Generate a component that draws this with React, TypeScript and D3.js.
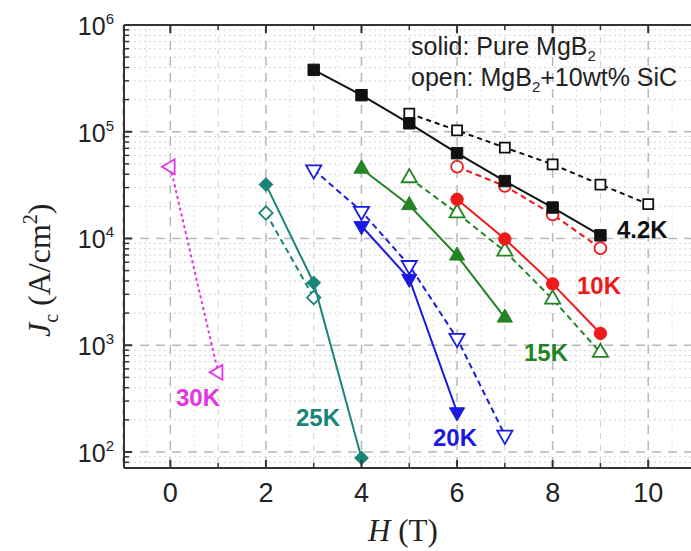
import React from "react";
import * as d3 from "d3";

// ---- data (H in tesla, Jc in A/cm^2) ----
const H42Solid = [3, 4, 5, 6, 7, 8, 9];
const Jc42Solid = [3.8e5, 2.2e5, 1.2e5, 6.3e4, 3.45e4, 1.95e4, 1.07e4];
const H42Open = [5, 6, 7, 8, 9, 10];
const Jc42Open = [1.48e5, 1.03e5, 7.1e4, 4.95e4, 3.2e4, 2.1e4];
const H10Solid = [6, 7, 8, 9];
const Jc10Solid = [2.33e4, 9.9e3, 3.76e3, 1.29e3];
const H10Open = [6, 7, 8, 9];
const Jc10Open = [4.7e4, 3.1e4, 1.68e4, 8.1e3];
const H15Solid = [4, 5, 6, 7];
const Jc15Solid = [4.5e4, 2.05e4, 6.9e3, 1.81e3];
const H15Open = [5, 6, 7, 8, 9];
const Jc15Open = [3.7e4, 1.73e4, 7.6e3, 2.7e3, 855];
const H20Solid = [4, 5, 6];
const Jc20Solid = [1.31e4, 4.2e3, 236];
const H20Open = [3, 4, 5, 6, 7];
const Jc20Open = [4.4e4, 1.8e4, 5.6e3, 1.16e3, 144];
const H25Solid = [2, 3, 4];
const Jc25Solid = [3.2e4, 3.84e3, 88];
const H25Open = [2, 3];
const Jc25Open = [1.73e4, 2.8e3];
const H30Open = [0, 1];
const Jc30Open = [4.7e4, 557];

const xTicks = [0, 2, 4, 6, 8, 10];
const xMinorTicks = [-1, 1, 3, 5, 7, 9, 11];
const yDecades = [2, 3, 4, 5, 6];

const W = 691;
const H = 551;
const left = 124;
const right = 696;
const top = 25;
const bottom = 468;

const x = d3.scaleLinear().domain([-0.97, 11]).range([left, right]);
const y = d3.scaleLog().domain([Math.pow(10, 1.85), 1e6]).range([bottom, top]);

type Series = {
  hs: number[];
  js: number[];
  color: string;
  marker: "square" | "circle" | "triUp" | "triDown" | "diamond" | "triLeft";
  filled: boolean;
  dash: string | undefined;
  size: number;
};

const series: Series[] = [
  { hs: H30Open, js: Jc30Open, color: "#e633e6", marker: "triLeft", filled: false, dash: "3,3", size: 95 },
  { hs: H25Open, js: Jc25Open, color: "#1a8478", marker: "diamond", filled: false, dash: "6,4", size: 90 },
  { hs: H25Solid, js: Jc25Solid, color: "#1a8478", marker: "diamond", filled: true, dash: undefined, size: 90 },
  { hs: H20Open, js: Jc20Open, color: "#1a1ae0", marker: "triDown", filled: false, dash: "6,4", size: 100 },
  { hs: H20Solid, js: Jc20Solid, color: "#1a1ae0", marker: "triDown", filled: true, dash: undefined, size: 100 },
  { hs: H15Open, js: Jc15Open, color: "#238423", marker: "triUp", filled: false, dash: "6,4", size: 100 },
  { hs: H15Solid, js: Jc15Solid, color: "#238423", marker: "triUp", filled: true, dash: undefined, size: 100 },
  { hs: H10Open, js: Jc10Open, color: "#ee1a1a", marker: "circle", filled: false, dash: "6,4", size: 110 },
  { hs: H10Solid, js: Jc10Solid, color: "#ee1a1a", marker: "circle", filled: true, dash: undefined, size: 120 },
  { hs: H42Open, js: Jc42Open, color: "#111111", marker: "square", filled: false, dash: "5,4", size: 100 },
  { hs: H42Solid, js: Jc42Solid, color: "#111111", marker: "square", filled: true, dash: undefined, size: 130 },
];

const symbolFor = (m: Series["marker"]) => {
  if (m === "circle") return d3.symbolCircle;
  if (m === "square" || m === "diamond") return d3.symbolSquare;
  return d3.symbolTriangle;
};
const rotFor = (m: Series["marker"]) => {
  if (m === "triDown") return 180;
  if (m === "triLeft") return -90;
  if (m === "diamond") return 45;
  return 0;
};

const labels = [
  { text: "4.2K", color: "#111111", x: 617, y: 238 },
  { text: "10K", color: "#ee1a1a", x: 577, y: 294 },
  { text: "15K", color: "#238423", x: 524, y: 361 },
  { text: "20K", color: "#1a1ae0", x: 433, y: 446 },
  { text: "25K", color: "#1a8478", x: 296, y: 426 },
  { text: "30K", color: "#e633e6", x: 176, y: 406 },
];

export default function App() {
  const line = d3
    .line<[number, number]>()
    .x((d) => x(d[0]))
    .y((d) => y(d[1]));

  const minorY: number[] = [];
  yDecades.forEach((d) => {
    for (let k = 2; k <= 9; k++) {
      const v = k * Math.pow(10, d - 1);
      if (v > y.domain()[0] && v < 1e6) minorY.push(v);
    }
  });

  const font = "Liberation Sans, Arial, sans-serif";
  const serif = "Liberation Serif, Times New Roman, serif";

  return (
    <svg
      width={W}
      height={H}
      style={{ position: "absolute", left: 0, top: 0, background: "#fff" }}
      fontFamily={font}
    >
      {/* grid */}
      <g>
        {minorY.map((v, i) => (
          <line key={"my" + i} x1={left} x2={right} y1={y(v)} y2={y(v)} stroke="#d4d4d4" strokeWidth={1} strokeDasharray="2,3" />
        ))}
        {xMinorTicks.map((v, i) => (
          <line key={"mx" + i} x1={x(v)} x2={x(v)} y1={top} y2={bottom} stroke="#cfcfcf" strokeWidth={1} strokeDasharray="6,6" />
        ))}
        {[-0.5, 0.5, 1.5, 2.5, 3.5, 4.5, 5.5, 6.5, 7.5, 8.5, 9.5, 10.5].map((v, i) => (
          <line key={"hx" + i} x1={x(v)} x2={x(v)} y1={top} y2={bottom} stroke="#e2e2e2" strokeWidth={1} strokeDasharray="2,3" />
        ))}
        {yDecades.map((d) => (
          <line key={"gy" + d} x1={left} x2={right} y1={y(Math.pow(10, d))} y2={y(Math.pow(10, d))} stroke="#b8b8b8" strokeWidth={1.5} strokeDasharray="9,7" />
        ))}
        {xTicks.map((v) => (
          <line key={"gx" + v} x1={x(v)} x2={x(v)} y1={top} y2={bottom} stroke="#b8b8b8" strokeWidth={1.5} strokeDasharray="9,7" />
        ))}
      </g>

      {/* series */}
      {series.map((s, i) => {
        const pts = s.hs.map((h, j) => [h, s.js[j]] as [number, number]);
        const path = d3.symbol().type(symbolFor(s.marker)).size(s.size)();
        return (
          <g key={"s" + i}>
            <path d={line(pts) || ""} fill="none" stroke={s.color} strokeWidth={2} strokeDasharray={s.dash} />
            {pts.map((p, j) => (
              <path
                key={j}
                d={path || ""}
                transform={`translate(${x(p[0])},${y(p[1])}) rotate(${rotFor(s.marker)})`}
                fill={s.filled ? s.color : "#fff"}
                stroke={s.color}
                strokeWidth={s.filled ? 1 : 1.8}
              />
            ))}
          </g>
        );
      })}

      {/* frame */}
      <line x1={left} x2={right} y1={top} y2={top} stroke="#333" strokeWidth={2} />
      <line x1={left} x2={right} y1={bottom} y2={bottom} stroke="#333" strokeWidth={2} />
      <line x1={left} x2={left} y1={top} y2={bottom} stroke="#333" strokeWidth={2} />

      {/* ticks */}
      {yDecades.map((d) => (
        <line key={"ty" + d} x1={left} x2={left + 8} y1={y(Math.pow(10, d))} y2={y(Math.pow(10, d))} stroke="#333" strokeWidth={2} />
      ))}
      {minorY.map((v, i) => (
        <line key={"tmy" + i} x1={left} x2={left + 5} y1={y(v)} y2={y(v)} stroke="#333" strokeWidth={1.5} />
      ))}
      {xTicks.map((v) => (
        <g key={"tx" + v}>
          <line x1={x(v)} x2={x(v)} y1={bottom} y2={bottom - 8} stroke="#333" strokeWidth={2} />
          <line x1={x(v)} x2={x(v)} y1={top} y2={top + 8} stroke="#333" strokeWidth={2} />
        </g>
      ))}
      {xMinorTicks.filter((v) => v > -0.97).map((v) => (
        <g key={"tmx" + v}>
          <line x1={x(v)} x2={x(v)} y1={bottom} y2={bottom - 5} stroke="#333" strokeWidth={1.5} />
          <line x1={x(v)} x2={x(v)} y1={top} y2={top + 5} stroke="#333" strokeWidth={1.5} />
        </g>
      ))}

      {/* tick labels */}
      {yDecades.map((d) => (
        <text key={"ly" + d} x={114} y={y(Math.pow(10, d)) + 10} textAnchor="end" fontSize={25} fill="#222">
          10
          <tspan fontSize={15} dy={-11}>{d}</tspan>
        </text>
      ))}
      {xTicks.map((v) => (
        <text key={"lx" + v} x={x(v)} y={502} textAnchor="middle" fontSize={27} fill="#222">
          {v}
        </text>
      ))}

      {/* axis titles */}
      <text x={368} y={541} fontFamily={serif} fontSize={31} fill="#222">
        <tspan fontStyle="italic">H</tspan> (T)
      </text>
      <text transform="translate(50,337) rotate(-90)" fontFamily={serif} fontSize={32} fill="#222">
        <tspan fontStyle="italic">J</tspan>
        <tspan fontSize={20} dy={8}>c</tspan>
        <tspan dy={-8}> (A/cm</tspan>
        <tspan fontSize={20} dy={-13}>2</tspan>
        <tspan dy={13}>)</tspan>
      </text>

      {/* annotation */}
      <text x={411} y={55} fontSize={25} fill="#222">
        solid: Pure MgB<tspan fontSize={15} dy={6}>2</tspan>
      </text>
      <text x={411} y={86} fontSize={25} fill="#222">
        open: MgB<tspan fontSize={15} dy={6}>2</tspan>
        <tspan dy={-6}>+10wt% SiC</tspan>
      </text>

      {/* temperature labels */}
      {labels.map((l) => (
        <text key={l.text} x={l.x} y={l.y} fontSize={24} fontWeight="bold" fill={l.color}>
          {l.text}
        </text>
      ))}
    </svg>
  );
}
